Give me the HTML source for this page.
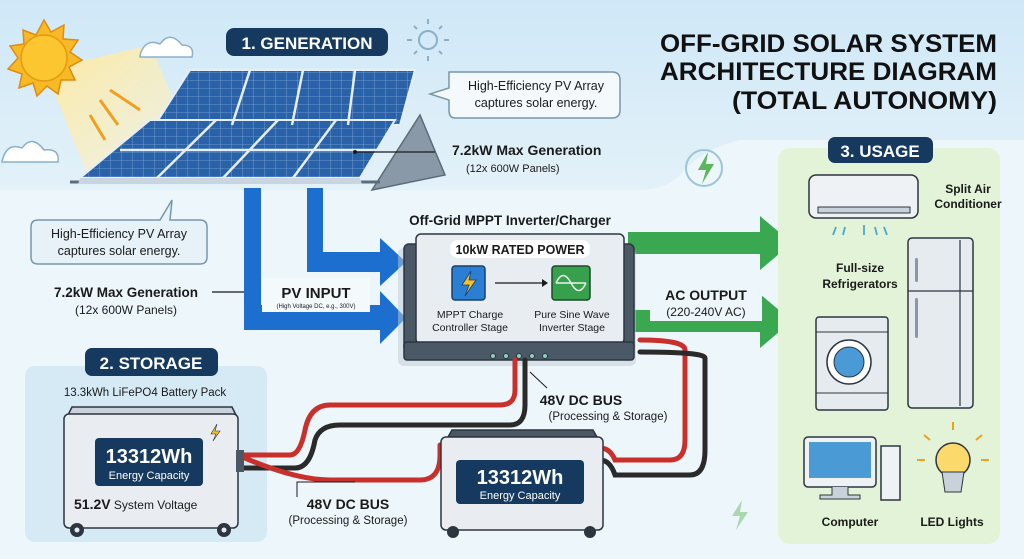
<!DOCTYPE html>
<html><head><meta charset="utf-8"><style>
html,body{margin:0;padding:0;width:1024px;height:559px;overflow:hidden;background:#edf6fb}
svg{display:block;font-family:"Liberation Sans",sans-serif}
</style></head><body>
<svg width="1024" height="559" viewBox="0 0 1024 559" xmlns="http://www.w3.org/2000/svg">
<defs>
<linearGradient id="sky" x1="0" y1="0" x2="0" y2="1"><stop offset="0" stop-color="#cfe8f7"/><stop offset="1" stop-color="#e3f1f9"/></linearGradient>
<linearGradient id="beam" x1="0" y1="0" x2="1" y2="1"><stop offset="0" stop-color="#fde9a0"/><stop offset="1" stop-color="#fdf3cf" stop-opacity="0.4"/></linearGradient>
<pattern id="cells" width="11" height="8" patternUnits="userSpaceOnUse"><rect width="11" height="8" fill="#2a62aa"/><path d="M0 0H11M0 0V8" stroke="#7fa9d8" stroke-width="0.8"/></pattern>
</defs>
<rect width="1024" height="559" fill="#edf6fb"/>
<!-- sky -->
<path d="M0 0H1024V140H740Q700 150 680 175Q665 190 640 190H0Z" fill="url(#sky)"/>
<!-- sun beam -->
<path d="M45 70L150 45L200 160L90 180Z" fill="url(#beam)"/>
<!-- sun -->
<g transform="translate(44,58)">
<polygon points="0,-38 7,-26 20,-33 19,-19 34,-18 26,-6 38,2 25,9 31,22 17,22 14,36 3,28 -7,38 -11,25 -25,30 -22,16 -36,11 -26,0 -34,-12 -20,-14 -21,-28 -8,-23" fill="#f7b924" stroke="#e08b12" stroke-width="1.5"/>
<circle r="23" fill="#fcc630" stroke="#e39a14" stroke-width="1.5"/>
</g>
<g stroke="#f0a020" stroke-width="3" fill="none">
<path d="M110 90L140 110M100 100L118 125M90 115L105 140"/>
</g>
<g fill="#fff" stroke="#8ab0cc" stroke-width="1.5">
<path d="M140 55Q145 38 160 44Q170 30 182 45Q195 45 192 57H140Z"/>
<path d="M2 162Q6 142 22 148Q32 134 44 150Q60 148 58 162Z"/>
</g>
<g stroke="#8ab0cc" stroke-width="2" fill="none"><circle cx="428" cy="40" r="9"/><path d="M428 24v-5M428 56v5M412 40h-5M444 40h5M417 29l-3-3M439 29l3-3M417 51l-3 3M439 51l3 3"/></g>
<!-- 1. GENERATION -->
<rect x="226" y="28" width="162" height="28" rx="8" fill="#163a5f"/>
<text x="307" y="49" font-size="17" font-weight="bold" fill="#fff" text-anchor="middle">1. GENERATION</text>
<!-- roof -->
<path d="M372 190L420 115L445 175Z" fill="#8a99a8" stroke="#5c6b7a" stroke-width="1.5"/>
<path d="M70 182H380" stroke="#5c6b7a" stroke-width="3"/>
<!-- panels -->
<polygon points="190,70 415,70 400,125 155,125" fill="url(#cells)" stroke="#e6eef6" stroke-width="2"/>
<polygon points="150,120 395,120 360,178 80,178" fill="url(#cells)" stroke="#e6eef6" stroke-width="2"/>
<path d="M216 120L157 178M278 120L223 178M336 120L293 178M250 70L232 125M303 70L292 125M355 70L348 125M120 150H380" stroke="#e6eef6" stroke-width="2.5"/>
<path d="M80 178H360L362 184H78Z" fill="#c9d5e0"/>
<!-- callouts top -->
<path d="M449 72H612Q620 72 620 80V110Q620 118 612 118H455Q449 118 449 110V100L430 94L449 88Z" fill="#f4f9fc" stroke="#7797ad" stroke-width="1.5"/>
<text x="536" y="90" font-size="12.5" fill="#1a1a1a" text-anchor="middle">High-Efficiency PV Array</text>
<text x="536" y="107" font-size="12.5" fill="#1a1a1a" text-anchor="middle">captures solar energy.</text>
<path d="M355 152H435" stroke="#1a1a1a" stroke-width="1.2"/><circle cx="355" cy="152" r="2" fill="#1a1a1a"/>
<text x="452" y="155" font-size="14" font-weight="bold" fill="#1a1a1a">7.2kW Max Generation</text>
<text x="466" y="172" font-size="11" fill="#1a1a1a">(12x 600W Panels)</text>
<!-- callout left -->
<path d="M38 220H160L172 200L170 220H200Q207 220 207 227V257Q207 264 200 264H38Q31 264 31 257V227Q31 220 38 220Z" fill="#e6f1f8" stroke="#7797ad" stroke-width="1.5"/>
<text x="119" y="238" font-size="12.5" fill="#1a1a1a" text-anchor="middle">High-Efficiency PV Array</text>
<text x="119" y="255" font-size="12.5" fill="#1a1a1a" text-anchor="middle">captures solar energy.</text>
<text x="126" y="297" font-size="13.5" font-weight="bold" fill="#1a1a1a" text-anchor="middle">7.2kW Max Generation</text>
<text x="126" y="314" font-size="12" fill="#1a1a1a" text-anchor="middle">(12x 600W Panels)</text>
<path d="M212 292H250" stroke="#1a1a1a" stroke-width="1.2"/><circle cx="250" cy="292" r="2" fill="#1a1a1a"/>
<!-- blue arrows -->
<g fill="#1c6fce">
<path d="M307 188H323V252H380V238L406 262L380 286V272H307Z"/>
<path d="M244 188H261V305H380V291L406 318L380 344V330H244Z"/>
</g>
<rect x="262" y="278" width="108" height="34" fill="#f4f9fc"/>
<text x="316" y="298" font-size="15" font-weight="bold" fill="#1a1a1a" text-anchor="middle">PV INPUT</text>
<text x="316" y="308" font-size="6" fill="#1a1a1a" text-anchor="middle">(High Voltage DC, e.g., 300V)</text>
<!-- green arrows -->
<g fill="#3aa851">
<path d="M628 232H760V216L792 243L760 270V254H628Z"/>
<path d="M628 310H760V294L792 321L760 348V332H628Z"/>
</g>
<rect x="650" y="285" width="112" height="36" fill="#edf6fb"/>
<text x="706" y="300" font-size="14" font-weight="bold" fill="#1a1a1a" text-anchor="middle">AC OUTPUT</text>
<text x="706" y="316" font-size="12" fill="#1a1a1a" text-anchor="middle">(220-240V AC)</text>
<!-- inverter -->
<text x="510" y="225" font-size="13.5" font-weight="bold" fill="#1a1a1a" text-anchor="middle">Off-Grid MPPT Inverter/Charger</text>
<rect x="398" y="248" width="238" height="118" rx="6" fill="#bfcad4" opacity="0.5"/>
<rect x="404" y="244" width="230" height="108" rx="5" fill="#4b5866" stroke="#2c3540" stroke-width="1.5"/>
<rect x="416" y="234" width="208" height="110" rx="5" fill="#e8edf2" stroke="#2c3540" stroke-width="1.5"/>
<rect x="404" y="342" width="230" height="18" rx="3" fill="#4b5866" stroke="#2c3540" stroke-width="1.5"/>
<g fill="#8fd0b8" stroke="#2c3540"><circle cx="493" cy="356" r="2.5"/><circle cx="506" cy="356" r="2.5"/><circle cx="519" cy="356" r="2.5"/><circle cx="532" cy="356" r="2.5"/><circle cx="545" cy="356" r="2.5"/></g>
<rect x="450" y="240" width="140" height="18" rx="8" fill="#fff"/>
<text x="520" y="254" font-size="12.5" font-weight="bold" fill="#1a1a1a" text-anchor="middle">10kW RATED POWER</text>
<rect x="452" y="266" width="33" height="34" rx="3" fill="#2a7fd4" stroke="#1b3f68" stroke-width="1.5"/>
<path d="M471 271L462 285H469L465 296L476 280H469Z" fill="#f6c026" stroke="#1b3f68" stroke-width="0.8"/>
<rect x="552" y="266" width="38" height="34" rx="3" fill="#37a04c" stroke="#1b4a2a" stroke-width="1.5"/>
<path d="M556 283Q563 268 571 283T586 283M556 283H586" stroke="#e6f5e6" stroke-width="1.5" fill="none"/>
<path d="M495 283H542" stroke="#1a1a1a" stroke-width="1.2"/><path d="M542 279L548 283L542 287Z" fill="#1a1a1a"/>
<text x="470" y="318" font-size="10.5" fill="#1a1a1a" text-anchor="middle">MPPT Charge</text>
<text x="470" y="331" font-size="10.5" fill="#1a1a1a" text-anchor="middle">Controller Stage</text>
<text x="572" y="318" font-size="10.5" fill="#1a1a1a" text-anchor="middle">Pure Sine Wave</text>
<text x="572" y="331" font-size="10.5" fill="#1a1a1a" text-anchor="middle">Inverter Stage</text>
<!-- storage panel -->
<rect x="25" y="366" width="242" height="176" rx="10" fill="#d6eaf6"/>
<rect x="85" y="348" width="133" height="28" rx="7" fill="#163a5f"/>
<text x="151" y="369" font-size="17" font-weight="bold" fill="#fff" text-anchor="middle">2. STORAGE</text>
<text x="145" y="396" font-size="11.5" fill="#1a1a1a" text-anchor="middle">13.3kWh LiFePO4 Battery Pack</text>
<!-- cables -->
<g fill="none" stroke-width="5" stroke-linecap="round">
<path d="M240 455H290Q300 455 305 430Q310 405 330 405H500Q515 405 515 390V360" stroke="#c9302c"/>
<path d="M240 468H295Q310 468 315 440Q320 425 340 425H510Q525 425 525 405V360" stroke="#2a2a2a"/>
<path d="M240 456Q295 480 330 480H420Q440 480 440 455V445" stroke="#c9302c"/>
<path d="M600 448Q610 448 615 460H670Q685 460 685 440V350Q685 340 640 340" stroke="#c9302c"/>
<path d="M600 460Q610 460 615 475H690Q705 475 705 450V358Q705 352 640 352" stroke="#2a2a2a"/>
</g>
<path d="M297 497V482H355" stroke="#1a1a1a" stroke-width="1" fill="none"/>
<path d="M530 372L547 388" stroke="#1a1a1a" stroke-width="1"/>
<text x="581" y="405" font-size="14" font-weight="bold" fill="#1a1a1a" text-anchor="middle">48V DC BUS</text>
<text x="608" y="420" font-size="11.5" fill="#1a1a1a" text-anchor="middle">(Processing &amp; Storage)</text>
<text x="348" y="509" font-size="14" font-weight="bold" fill="#1a1a1a" text-anchor="middle">48V DC BUS</text>
<text x="348" y="524" font-size="11.5" fill="#1a1a1a" text-anchor="middle">(Processing &amp; Storage)</text>
<!-- battery 1 -->
<path d="M68 415L72 407H232L236 415Z" fill="#c9d2da" stroke="#2c3540" stroke-width="1.5"/>
<rect x="64" y="414" width="174" height="114" rx="5" fill="#e9edf1" stroke="#2c3540" stroke-width="1.5"/>
<rect x="236" y="450" width="8" height="22" fill="#4b5866"/>
<path d="M217 424L211 434H216L213 441L220 431H215Z" fill="#f6c026" stroke="#333" stroke-width="0.6"/>
<rect x="95" y="438" width="108" height="48" rx="4" fill="#163a5f"/>
<text x="149" y="463" font-size="20" font-weight="bold" fill="#fff" text-anchor="middle">13312Wh</text>
<text x="149" y="479" font-size="11" fill="#fff" text-anchor="middle">Energy Capacity</text>
<text x="74" y="509" font-size="14" font-weight="bold" fill="#1a1a1a">51.2V<tspan font-size="12" font-weight="normal"> System Voltage</tspan></text>
<g fill="#2c3540"><circle cx="77" cy="530" r="7"/><circle cx="224" cy="530" r="7"/></g>
<g fill="#e9edf1"><circle cx="77" cy="530" r="2.5"/><circle cx="224" cy="530" r="2.5"/></g>
<!-- battery 2 -->
<path d="M448 437L452 430H593L597 437Z" fill="#4b5866" stroke="#2c3540" stroke-width="1.5"/>
<rect x="441" y="437" width="162" height="93" rx="5" fill="#e9edf1" stroke="#2c3540" stroke-width="1.5"/>
<rect x="456" y="460" width="128" height="44" rx="4" fill="#163a5f"/>
<text x="520" y="484" font-size="20" font-weight="bold" fill="#fff" text-anchor="middle">13312Wh</text>
<text x="520" y="499" font-size="11" fill="#fff" text-anchor="middle">Energy Capacity</text>
<g fill="#2c3540"><circle cx="453" cy="532" r="6"/><circle cx="590" cy="532" r="6"/></g>
<!-- title -->
<g font-size="25" font-weight="bold" fill="#111" text-anchor="end">
<text x="997" y="52" textLength="337" lengthAdjust="spacingAndGlyphs">OFF-GRID SOLAR SYSTEM</text>
<text x="997" y="80" textLength="337" lengthAdjust="spacingAndGlyphs">ARCHITECTURE DIAGRAM</text>
<text x="997" y="109" textLength="265" lengthAdjust="spacingAndGlyphs">(TOTAL AUTONOMY)</text>
</g>
<g stroke="#9cc5d8" stroke-width="2" fill="none"><circle cx="704" cy="168" r="18"/></g>
<path d="M708 152L698 170H706L702 184L714 164H706Z" fill="#5cb85c"/>
<path d="M742 500L732 516H740L736 530L748 512H740Z" fill="#a9d8b0"/>
<!-- usage panel -->
<rect x="778" y="148" width="222" height="396" rx="12" fill="#e3f3d8"/>
<rect x="828" y="137" width="105" height="26" rx="7" fill="#163a5f"/>
<text x="880" y="157" font-size="17" font-weight="bold" fill="#fff" text-anchor="middle">3. USAGE</text>
<!-- AC -->
<rect x="809" y="175" width="109" height="43" rx="7" fill="#eef2f5" stroke="#2c3540" stroke-width="1.5"/>
<rect x="818" y="207" width="92" height="6" fill="#c9d2da" stroke="#2c3540"/>
<path d="M836 227l-3 8M845 227l-2 8M864 225v10M875 227l2 8M884 227l3 8" stroke="#4aa8c8" stroke-width="1.8"/>
<text x="968" y="193" font-size="12" font-weight="bold" fill="#1a1a1a" text-anchor="middle">Split Air</text>
<text x="968" y="208" font-size="12" font-weight="bold" fill="#1a1a1a" text-anchor="middle">Conditioner</text>
<text x="860" y="272" font-size="12" font-weight="bold" fill="#1a1a1a" text-anchor="middle">Full-size</text>
<text x="860" y="288" font-size="12" font-weight="bold" fill="#1a1a1a" text-anchor="middle">Refrigerators</text>
<!-- fridge -->
<rect x="908" y="238" width="65" height="170" rx="4" fill="#e6ebef" stroke="#2c3540" stroke-width="1.5"/>
<path d="M908 291H973M960 240V406" stroke="#2c3540" stroke-width="1.2"/>
<rect x="915" y="258" width="3" height="24" rx="1.5" fill="#8898a8"/>
<rect x="915" y="298" width="3" height="40" rx="1.5" fill="#8898a8"/>
<!-- washer -->
<rect x="816" y="317" width="72" height="93" rx="3" fill="#e6ebef" stroke="#2c3540" stroke-width="1.5"/>
<path d="M816 332H888M816 393H888" stroke="#2c3540"/>
<circle cx="849" cy="362" r="22" fill="#fff" stroke="#2c3540" stroke-width="1.5"/>
<circle cx="849" cy="362" r="15" fill="#4a9ad6" stroke="#2c3540"/>
<!-- computer -->
<rect x="804" y="437" width="72" height="50" rx="4" fill="#eef2f5" stroke="#2c3540" stroke-width="1.5"/>
<rect x="809" y="442" width="62" height="36" fill="#4a9ad6"/>
<path d="M832 487v8h-12v4h40v-4h-12v-8" fill="#c9d2da" stroke="#2c3540"/>
<rect x="881" y="446" width="19" height="54" fill="#eef2f5" stroke="#2c3540" stroke-width="1.5"/>
<text x="850" y="526" font-size="12" font-weight="bold" fill="#1a1a1a" text-anchor="middle">Computer</text>
<!-- bulb -->
<circle cx="953" cy="460" r="17" fill="#fbd96a" stroke="#2c3540" stroke-width="1.5"/>
<path d="M942 472H964L961 492H945Z" fill="#c9d2da" stroke="#2c3540"/>
<path d="M925 460h-8M989 460h-8M930 440l-6-5M976 440l6-5M953 430v-8" stroke="#f0a020" stroke-width="2"/>
<text x="952" y="526" font-size="12" font-weight="bold" fill="#1a1a1a" text-anchor="middle">LED Lights</text>
</svg>
</body></html>
